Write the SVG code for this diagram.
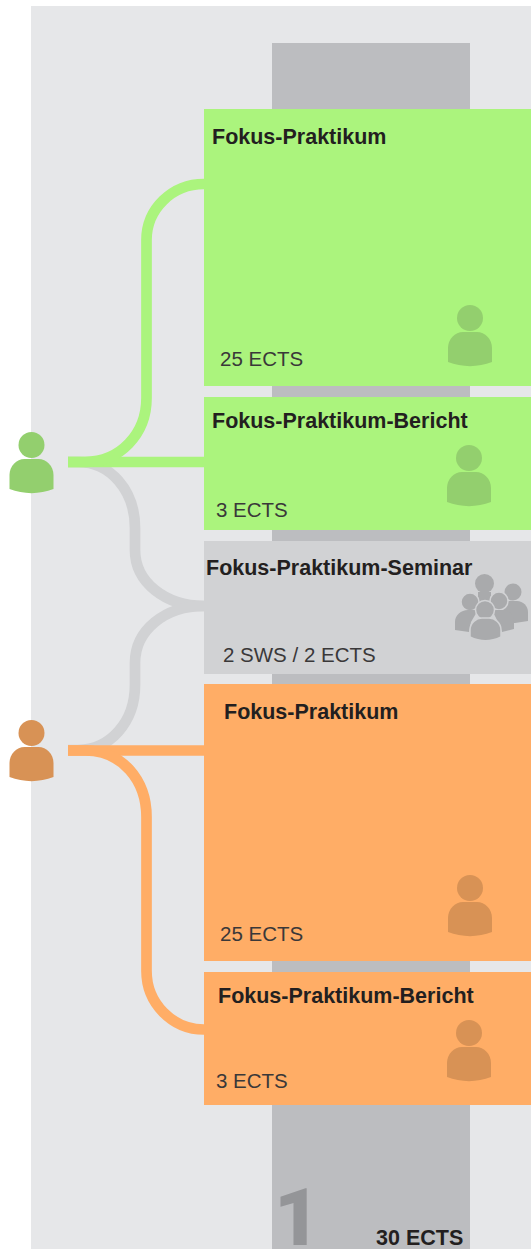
<svg xmlns="http://www.w3.org/2000/svg" width="531" height="1249" viewBox="0 0 531 1249">
<style>
text{font-family:"Liberation Sans",Arial,sans-serif;fill:#231f20}
.t{font-weight:700;font-size:21.500px}
.e{font-size:20.500px;fill:#3a3839}
.c{fill:none;stroke-width:10.700}
.g{stroke:#abf47d}.o{stroke:#ffad66}.y{stroke:#d1d2d4}
.bg{fill:#abf47d}.bo{fill:#ffad66}.by{fill:#d1d2d4}
</style>
<defs>
<g id="person"><circle cx="0" cy="-31" r="13"/><path d="M-22 13V-1C-22-10-15-17-7-17H7C15-17 22-10 22-1V13C8 18.500-8 18.500-22 13Z"/></g>
</defs>
<rect id="background" x="31" y="6" width="500" height="1243" fill="#e6e7e9"/>
<rect id="semester-column" x="272" y="43" width="198" height="1206" fill="#bcbdc0"/>
<g id="connectors">
<path class="c y" d="M68 462H78C110 462 135 490 135 528V550C135 582 165 606 204 606"/>
<path class="c y" d="M68 750H78C110 750 135 722 135 685V663C135 630 165 606 204 606"/>
<path class="c g" d="M68 462H204"/>
<path class="c g" d="M68 462H85C120 462 146.500 434 146.500 398V240C146.500 209 172 184 204 184"/>
<path class="c o" d="M68 750.500H204"/>
<path class="c o" d="M68 750.500H85C122 750.500 146.500 780 146.500 817V971C146.500 1003 172 1029.500 204 1029.500"/>
</g>
<g id="node-praktikum-green"><rect class="bg" x="204" y="109" width="327" height="277"/><text class="t" x="212" y="144">Fokus-Praktikum</text><text class="e" x="220" y="366">25 ECTS</text><use href="#person" x="470" y="349" fill="#93cf6e"/></g>
<g id="node-bericht-green"><rect class="bg" x="204" y="397" width="327" height="133"/><text class="t" x="212" y="428">Fokus-Praktikum-Bericht</text><text class="e" x="216" y="517">3 ECTS</text><use href="#person" x="469" y="489" fill="#93cf6e"/></g>
<g id="node-seminar"><rect class="by" x="204" y="541" width="327" height="133"/><text class="t" x="206" y="575">Fokus-Praktikum-Seminar</text><text class="e" x="223" y="662">2 SWS / 2 ECTS</text>
<g id="group-icon" fill="#a9aaac" stroke-width="1.500">
<circle cx="484.500" cy="583.500" r="9.500"/><circle cx="513" cy="592" r="8.500"/>
<path d="M503 601H517C523 601 528 606 528 612V621L515 623H500Z"/>
<path d="M478 592H491V606H478Z"/>
<circle cx="470" cy="602" r="9" stroke="#d1d2d4"/><circle cx="499" cy="601" r="9" stroke="#d1d2d4"/>
<path d="M455 630V622C455 615 461 610 468 610H478L471 622 469 632Z"/>
<path d="M492 610H504C510 610 514 616 514 622V629L502 632 497 620Z"/>
<circle cx="485" cy="610" r="9.500" stroke="#d1d2d4"/>
<path d="M470 637V630C470 623 476 618 482 618H489C495 618 501 623 501 630V637C491 642 480 642 470 637Z" stroke="#d1d2d4"/>
</g></g>
<g id="node-praktikum-orange"><rect class="bo" x="204" y="684" width="327" height="277"/><text class="t" x="224" y="719">Fokus-Praktikum</text><text class="e" x="220" y="941">25 ECTS</text><use href="#person" x="470" y="919" fill="#d89255"/></g>
<g id="node-bericht-orange"><rect class="bo" x="204" y="972" width="327" height="133"/><text class="t" x="218" y="1003">Fokus-Praktikum-Bericht</text><text class="e" x="216" y="1088">3 ECTS</text><use href="#person" x="469" y="1064" fill="#d89255"/></g>
<g id="person-green"><use href="#person" x="31.500" y="476" fill="#93cf6e"/></g>
<g id="person-orange"><use href="#person" x="31.500" y="764" fill="#d89255"/></g>
<g id="semester-footer"><text x="274" y="1245" font-size="80" font-weight="900" style="font-family:Roboto,'Liberation Sans',sans-serif;fill:#949598">1</text><text x="376" y="1245" font-size="21.500" font-weight="700">30 ECTS</text></g>
</svg>
